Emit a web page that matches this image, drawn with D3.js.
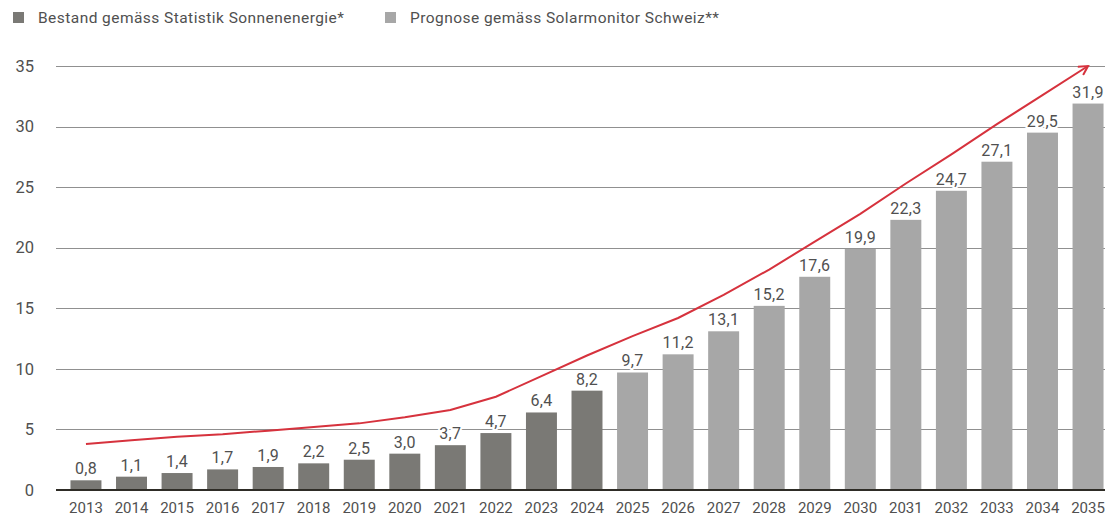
<!DOCTYPE html>
<html>
<head>
<meta charset="utf-8">
<script src="https://cdn.jsdelivr.net/npm/d3@7"></script>
<style>
  body { margin: 0; background: #fff; }
  svg { display: block; font-family: Roboto, "Liberation Sans", sans-serif; }
</style>
</head>
<body>
<div id="chart"></div>
<script>
// Data
const years = d3.range(2013, 2036).map(String);
const values = [0.8, 1.1, 1.4, 1.7, 1.9, 2.2, 2.5, 3.0, 3.7, 4.7, 6.4, 8.2,
                9.7, 11.2, 13.1, 15.2, 17.6, 19.9, 22.3, 24.7, 27.1, 29.5, 31.9];
const forecastFrom = 2025; // first forecast year
const trend = [3.8, 4.1, 4.4, 4.6, 4.9, 5.2, 5.5, 6.0, 6.6, 7.7, 9.4, 11.1,
               12.7, 14.2, 16.1, 18.2, 20.5, 22.8, 25.3, 27.7, 30.2, 32.6, 35.0];
const yTicks = [0, 5, 10, 15, 20, 25, 30, 35];
const legendLabels = ["Bestand gemäss Statistik Sonnenenergie*", "Prognose gemäss Solarmonitor Schweiz**"];

const W = 1105, H = 516;
const colorActual = "#7a7975";
const colorForecast = "#a7a7a7";
const red = "#d6323d";
const textColor = "#505050";

const svg = d3.select("#chart").append("svg")
    .attr("width", W)
    .attr("height", H);

const x = d3.scaleBand()
    .domain(years)
    .range([47.7, 1126.3])
    .paddingInner(0.32)
    .paddingOuter(0.5);

const y = d3.scaleLinear()
    .domain([0, 35])
    .range([490, 66]);

// Gridlines
svg.append("g")
    .selectAll("line")
    .data(yTicks.filter(d => d > 0))
    .join("line")
    .attr("x1", 56)
    .attr("x2", W)
    .attr("y1", d => Math.round(y(d)) + 0.5)
    .attr("y2", d => Math.round(y(d)) + 0.5)
    .attr("stroke", "#909090")
    .attr("stroke-width", 1);

// Y tick labels
svg.append("g")
    .selectAll("text")
    .data(yTicks)
    .join("text")
    .attr("x", 34)
    .attr("y", d => y(d))
    .attr("dy", "0.35em")
    .attr("text-anchor", "end")
    .attr("font-size", 16.5)
    .attr("fill", textColor)
    .text(d => d);

// Bars
svg.append("g")
    .selectAll("rect")
    .data(years)
    .join("rect")
    .attr("x", d => x(d))
    .attr("y", (d, i) => y(values[i]))
    .attr("width", x.bandwidth())
    .attr("height", (d, i) => y(0) - y(values[i]))
    .attr("fill", d => +d >= forecastFrom ? colorForecast : colorActual);

// Baseline
svg.append("line")
    .attr("x1", 56)
    .attr("x2", W)
    .attr("y1", y(0))
    .attr("y2", y(0))
    .attr("stroke", "#2e2c26")
    .attr("stroke-width", 2.2);

// Value labels (white halo breaks the gridlines)
svg.append("g")
    .selectAll("text")
    .data(years)
    .join("text")
    .attr("x", d => x(d) + x.bandwidth() / 2)
    .attr("y", (d, i) => y(values[i]) - 6)
    .attr("text-anchor", "middle")
    .attr("font-size", 16)
    .attr("letter-spacing", 0.3)
    .attr("fill", textColor)
    .attr("stroke", "#fff")
    .attr("stroke-width", 4)
    .attr("paint-order", "stroke")
    .text((d, i) => d3.format(".1f")(values[i]).replace(".", ","));

// X tick labels
svg.append("g")
    .selectAll("text")
    .data(years)
    .join("text")
    .attr("x", d => x(d) + x.bandwidth() / 2)
    .attr("y", 513)
    .attr("text-anchor", "middle")
    .attr("font-size", 15)
    .attr("fill", textColor)
    .text(d => d);

// Trend line with arrowhead
svg.append("defs").append("marker")
    .attr("id", "arrow")
    .attr("viewBox", "0 0 12 12")
    .attr("refX", 10)
    .attr("refY", 6)
    .attr("markerWidth", 12)
    .attr("markerHeight", 12)
    .attr("markerUnits", "userSpaceOnUse")
    .attr("orient", "auto")
    .append("path")
    .attr("d", "M1,1 L10,6 L1,11")
    .attr("fill", "none")
    .attr("stroke", red)
    .attr("stroke-width", 2);

const line = d3.line()
    .x((d, i) => x(years[i]) + x.bandwidth() / 2)
    .y(d => y(d));

svg.append("path")
    .datum(trend)
    .attr("d", line)
    .attr("fill", "none")
    .attr("stroke", red)
    .attr("stroke-width", 2)
    .attr("marker-end", "url(#arrow)");

// Legend
const legendX = [13, 385];
const legend = svg.append("g")
    .selectAll("g")
    .data(legendLabels)
    .join("g")
    .attr("transform", (d, i) => "translate(" + legendX[i] + ",12)");

legend.append("rect")
    .attr("width", 11)
    .attr("height", 11)
    .attr("fill", (d, i) => i === 0 ? colorActual : colorForecast);

legend.append("text")
    .attr("x", 25)
    .attr("y", 6)
    .attr("dy", "0.35em")
    .attr("font-size", 15.5)
    .attr("letter-spacing", 0.45)
    .attr("fill", textColor)
    .text(d => d);
</script>
</body>
</html>
